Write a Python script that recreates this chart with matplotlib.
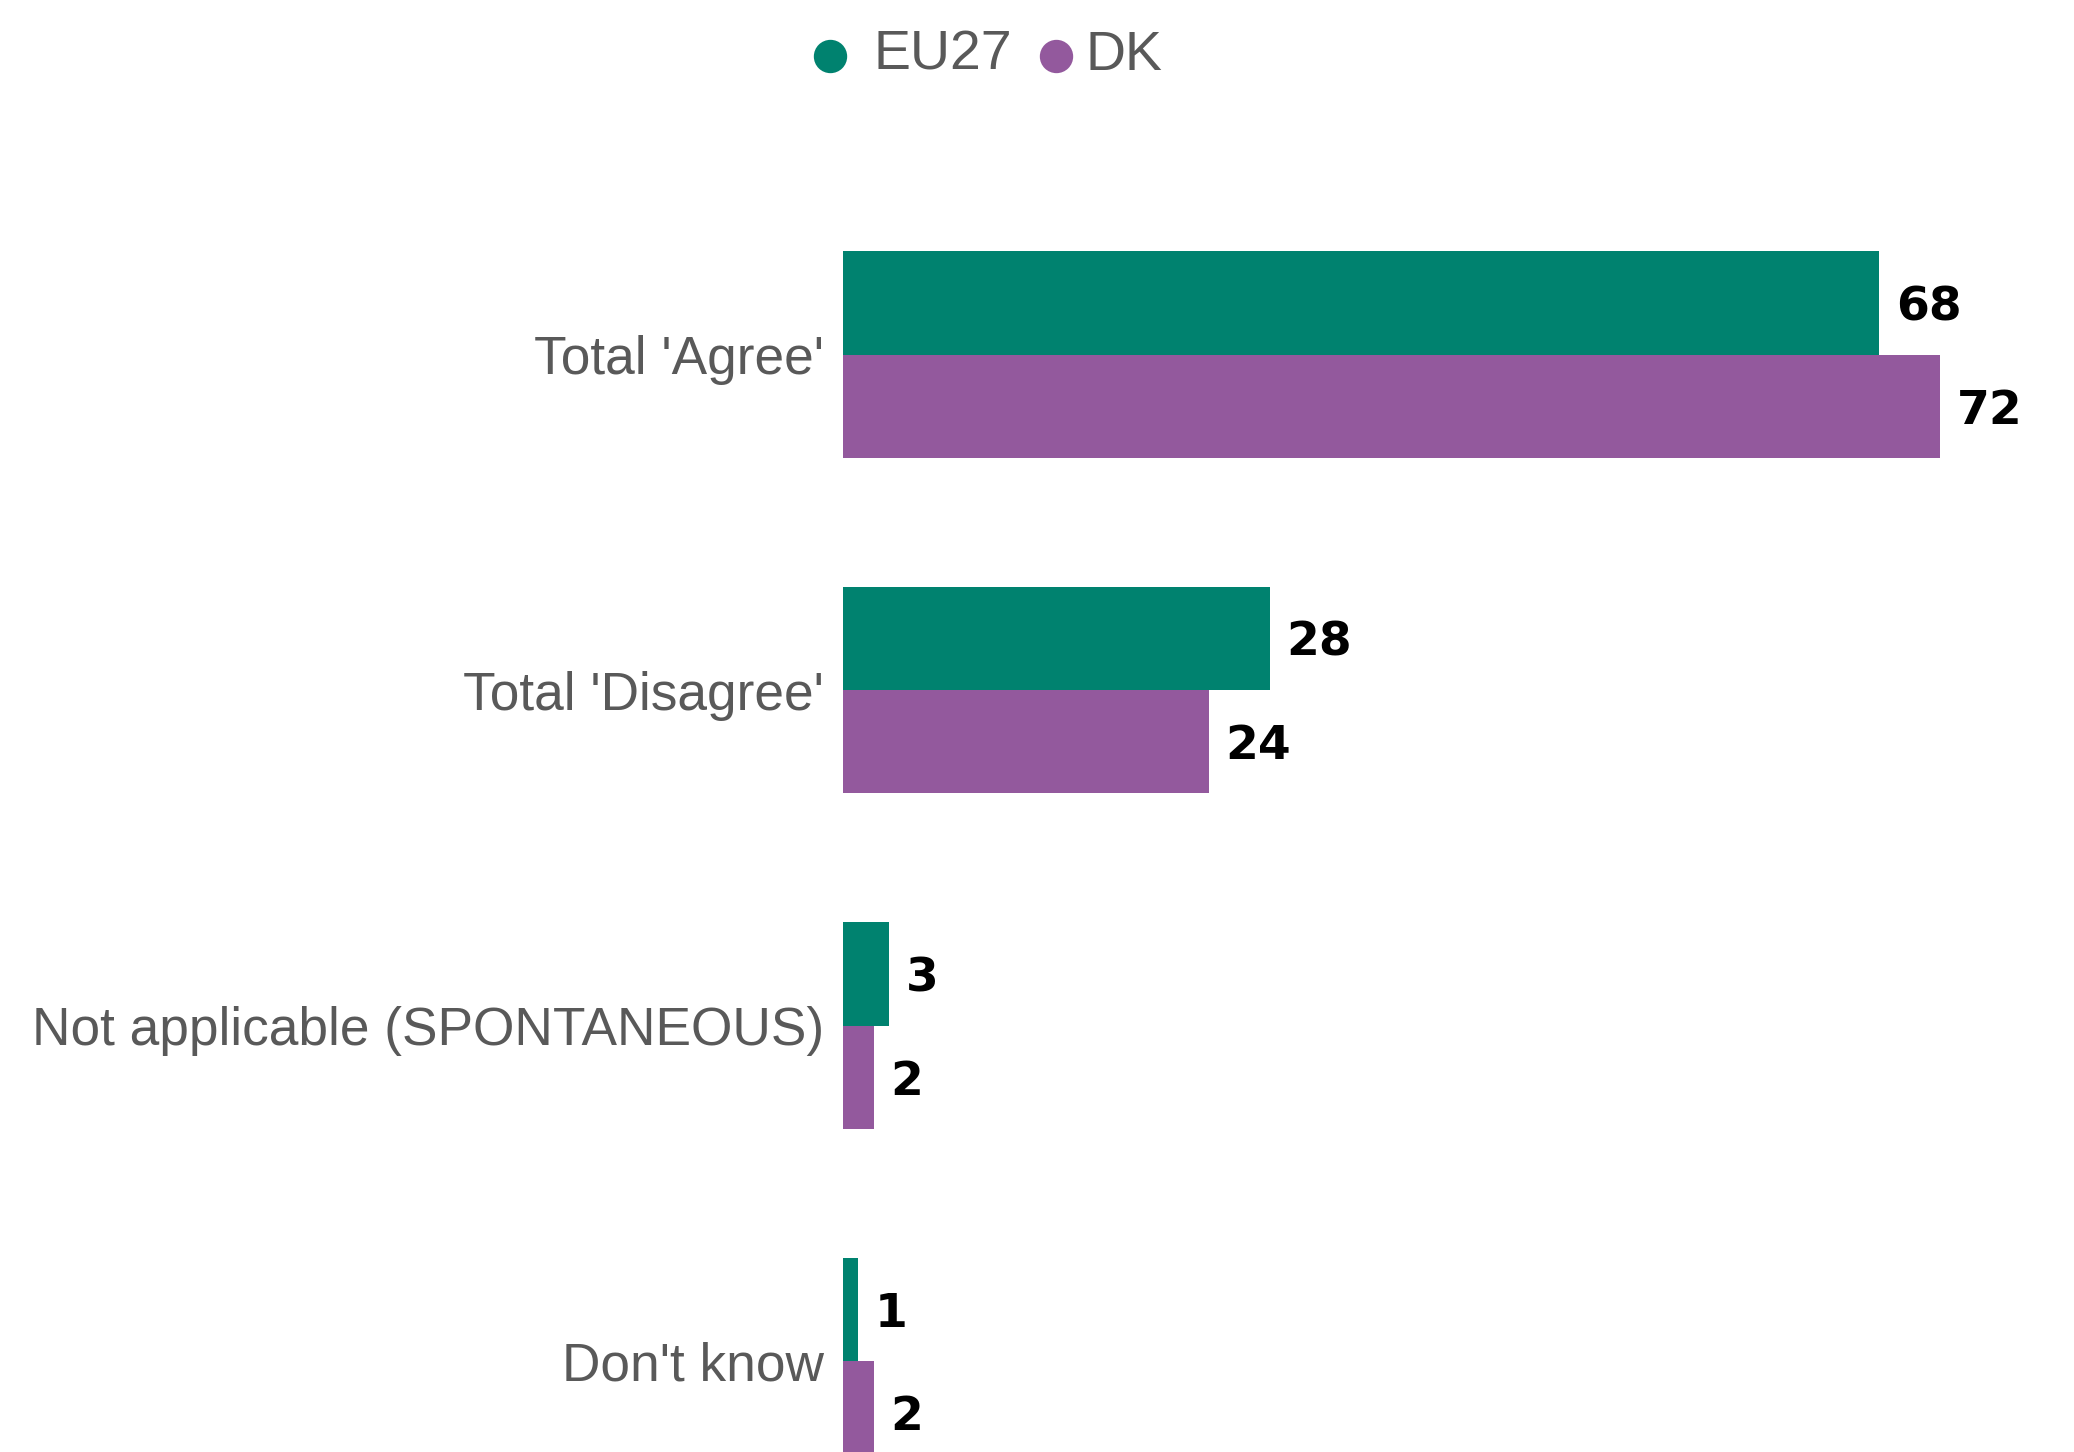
import numpy as np
import matplotlib
matplotlib.use("Agg")
from matplotlib import pyplot as plt
from matplotlib.lines import Line2D

categories = ["Total 'Agree'", "Total 'Disagree'", "Not applicable (SPONTANEOUS)", "Don't know"]
eu27 = [68, 28, 3, 1]
dk = [72, 24, 2, 2]
series_names = ["EU27", "DK"]
colors = ["#00826F", "#93599D"]

plt.rcParams['font.family'] = ['Liberation Sans', 'DejaVu Sans']

fig = plt.figure(figsize=(10.37, 7.26), dpi=200)
ax = fig.add_axes([0.4065, 0.0, 0.5935, 1.0])

y = np.arange(len(categories))
h = 0.3077

bars1 = ax.barh(y - h / 2, eu27, height=h, color=colors[0])
bars2 = ax.barh(y + h / 2, dk, height=h, color=colors[1])

for bars, vals in [(bars1, eu27), (bars2, dk)]:
    for b, v in zip(bars, vals):
        ax.annotate(str(v), (b.get_width(), b.get_y() + b.get_height() / 2),
                    xytext=(6, 0), textcoords='offset points', va='center_baseline', ha='left',
                    fontsize=17, fontweight='bold', color='black', family='DejaVu Sans')

ax.set_xlim(0, 80.8)
ax.set_ylim(3.271, -1.057)
ax.set_yticks(y)
ax.set_yticklabels(categories, fontsize=19.2, color='#595959', va='center_baseline')
ax.tick_params(axis='y', length=0, pad=7)
ax.set_xticks([])
for s in ax.spines.values():
    s.set_visible(False)

# legend drawn by hand so each marker/text gap matches
leg_y = 0.9617
for xm, xt, name, c in [(0.4002, 0.4212, series_names[0], colors[0]),
                        (0.5092, 0.5232, series_names[1], colors[1])]:
    fig.add_artist(Line2D([xm], [leg_y], marker='o', linestyle='none', markersize=11,
                          markerfacecolor=c, markeredgecolor=c, transform=fig.transFigure))
    fig.text(xt, leg_y, name, fontsize=20, color='#595959', va='center', ha='left')

fig.savefig("out.png", dpi=200)
